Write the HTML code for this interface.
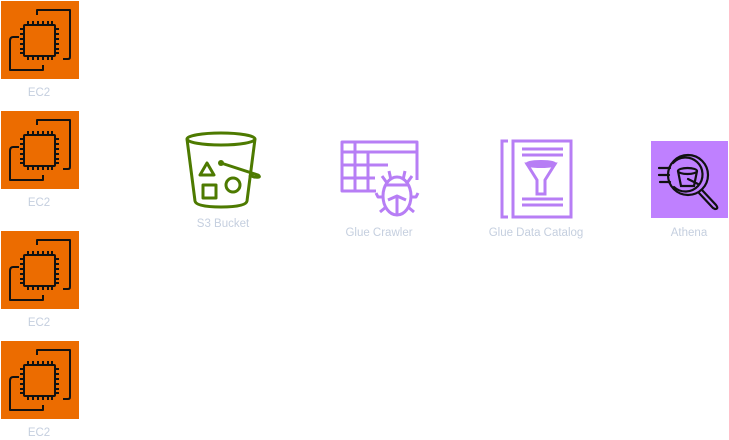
<!DOCTYPE html>
<html><head><meta charset="utf-8"><style>
html,body{margin:0;padding:0;background:#fff;width:729px;height:440px;overflow:hidden}
text{font-family:"Liberation Sans",sans-serif;font-size:11.5px;fill:#c5cfdf}
</style></head><body>
<svg width="729" height="440" viewBox="0 0 729 440" xmlns="http://www.w3.org/2000/svg">
<defs>
<g id="ec2">
<rect x="0" y="0" width="78" height="78" fill="#ec6c00"/>
<g fill="none" stroke="#111" stroke-width="2" stroke-linejoin="round">
<path d="M36 14 V9 H69 V56 Q69 58 67 58 H62"/>
<path d="M42 64 V69 H9 V40 Q9 36 12 36 H18"/>
<rect x="23" y="24" width="31" height="31" rx="1"/>
<path d="M27 24v-4M32 24v-4M37 24v-4M42 24v-4M47 24v-4M51 24v-4M27 55v4M32 55v4M37 55v4M42 55v4M47 55v4M51 55v4M23 28h-4M23 33h-4M23 38h-4M23 43h-4M23 48h-4M23 52h-4M54 28h4M54 33h4M54 38h4M54 43h4M54 48h4M54 52h4"/>
</g>
</g>
</defs>
<use href="#ec2" x="1" y="1"/>
<use href="#ec2" x="1" y="111"/>
<use href="#ec2" x="1" y="231"/>
<use href="#ec2" x="1" y="341"/>
<text x="39" y="96" text-anchor="middle">EC2</text>
<text x="39" y="206" text-anchor="middle">EC2</text>
<text x="39" y="326" text-anchor="middle">EC2</text>
<text x="39" y="436" text-anchor="middle">EC2</text>

<g fill="none" stroke="#4d7a00" stroke-width="3" stroke-linejoin="round">
<ellipse cx="221" cy="139" rx="34" ry="6"/>
<path d="M187 139 L195 201 Q196 207 221 207 Q246 207 247 201 L255 139"/>
<path d="M221 163 L258 175 Q262 178 254 177 L249 175"/>
<path d="M200 175 L207 163 L214 175 Z"/>
<rect x="203" y="185" width="13" height="13"/>
<circle cx="233" cy="185" r="7"/>
</g>
<circle cx="221" cy="163" r="3" fill="#4d7a00"/>
<text x="223" y="227" text-anchor="middle">S3 Bucket</text>

<g fill="none" stroke="#b77ef5" stroke-width="3" stroke-linejoin="round">
<path d="M376 191 H342 V142 H417 V180"/>
<path d="M342 152 H417 M342 165 H388 M342 178 H375 M355 142 V191 M368 152 V191"/>
<ellipse cx="397" cy="196" rx="14" ry="19"/>
<path d="M385 185 H409 M387 183 L382 176 M407 183 L412 176 M391 180 L389 171 M403 180 L405 171 M383 197 H378 L376 193 M411 197 H416 L418 193 M386 207 L380 212 M408 207 L414 212 M397 196 V215 M388 200 L397 196 L406 200"/>
</g>
<text x="379" y="236" text-anchor="middle">Glue Crawler</text>

<g fill="none" stroke="#b77ef5" stroke-width="3">
<path d="M508 141 H502 V217 H508"/>
<rect x="513" y="141" width="58" height="76"/>
<path d="M522 149 H563 M522 155 H563 M522 199 H563 M522 205 H563"/>
<path d="M527 164 H555 L545 180 V194 H537 V180 Z"/>
<ellipse cx="541" cy="164" rx="14" ry="2.5"/>
</g>
<text x="536" y="236" text-anchor="middle">Glue Data Catalog</text>

<rect x="651" y="141" width="77" height="77" fill="#bf80ff"/>
<g fill="none" stroke="#111" stroke-width="2.2" stroke-linecap="round">
<circle cx="688" cy="175" r="20"/>
<path d="M673 163 A17 17 0 1 1 674 187"/>
<path d="M702 190 L716 205 Q719 209 715 209 L713 208 L699 193"/>
<path d="M659 168 H670 M659 175 H669 M660 182 H670"/>
<path d="M678 171 L681 186 H694 L697 171"/>
<ellipse cx="687.5" cy="171" rx="9.5" ry="3"/>
<path d="M688 179 L698 184"/>
</g>
<text x="689" y="236" text-anchor="middle">Athena</text>
</svg>
</body></html>
